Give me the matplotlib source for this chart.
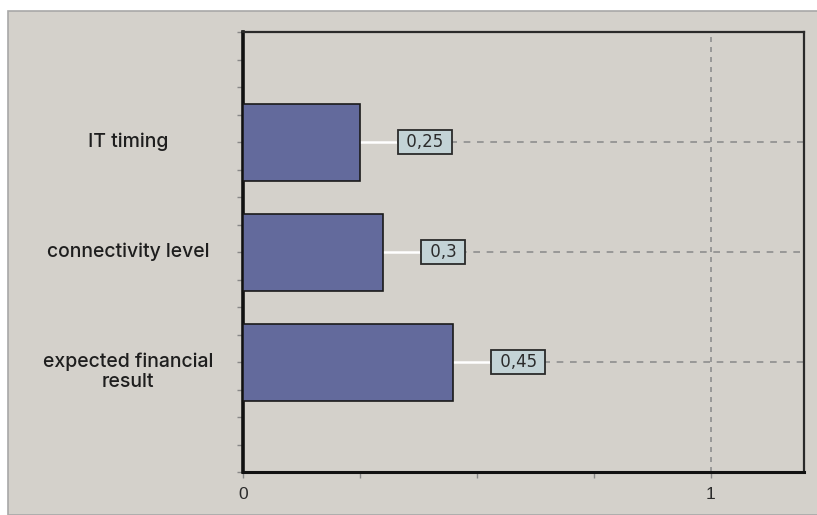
import matplotlib
matplotlib.use("Agg")
import matplotlib.pyplot as plt
from matplotlib.patches import Rectangle
import numpy as np

categories = ["expected financial\nresult", "connectivity level", "IT timing"]
values = [0.45, 0.3, 0.25]
value_labels = ["0,45", "0,3", "0,25"]
xtick_labels = ["0", "1"]

W, H, DPI = 817, 515, 100
fig = plt.figure(figsize=(W / DPI, H / DPI), dpi=DPI, facecolor="white")

# outer grey panel
panel = Rectangle((8 / W, 0), 1 - 8 / W + 0.01, (H - 11) / H, transform=fig.transFigure,
                  facecolor="#d4d1cb", edgecolor="#a8a8a8", linewidth=1.2, zorder=-5)
fig.patches.append(panel)

ax_left, ax_right = 243, 804
ax = fig.add_axes([ax_left / W, (H - 472) / H, (ax_right - ax_left) / W, (472 - 32) / H])
ax.set_facecolor("#d4d1cb")

ypos = np.arange(1, len(categories) + 1)
ax.set_xlim(0, 1.2)
ax.set_ylim(0, 4)

ax.barh(ypos, values, height=0.7, color="#636a9c", edgecolor="#1a1a1a", linewidth=1.2, zorder=3)

px_per_unit = (ax_right - ax_left) / 1.2
gap = 37 / px_per_unit
fs = 12
pad = 0.2
pad_px = pad * fs * DPI / 72
for y, v, lab in zip(ypos, values, value_labels):
    ax.plot([v, v + gap], [y, y], color="white", lw=1.8, zorder=2)
    ax.plot([v + gap, 1.2], [y, y], color="#8e8e8e", lw=1.2, ls=(0, (4, 4)), zorder=2)
    ax.annotate(" " + lab + " ", xy=(v + gap, y), xytext=(pad_px + 1, 0), textcoords="offset pixels",
                ha="left", va="center", fontsize=fs, color="#2b2b2b", family="DejaVu Sans",
                bbox=dict(boxstyle=f"square,pad={pad}", facecolor="#c3d3d6", edgecolor="#2a2a2a", lw=1.3),
                zorder=5)

# vertical grid at 1
ax.axvline(1, color="#8e8e8e", lw=1.2, ls=(0, (3, 3)), zorder=1)

# spines
ax.spines["left"].set_linewidth(2.6)
ax.spines["left"].set_color("#111111")
ax.spines["bottom"].set_linewidth(2.2)
ax.spines["bottom"].set_color("#111111")
for s in ["top", "right"]:
    ax.spines[s].set_linewidth(1.6)
    ax.spines[s].set_color("#2a2a2a")

ax.set_xticks([0, 1])
ax.set_xticklabels(xtick_labels, fontsize=12.5, color="#2b2b2b", family="Liberation Sans")
ax.set_xticks([0.25, 0.5, 0.75], minor=True)
ax.tick_params(axis="x", which="both", length=4, color="#888888", width=1, pad=7)

# category labels: centred text left of the axis
ax.set_yticks(ypos)
ax.set_yticklabels([])
ax.set_yticks(np.arange(0, 4.01, 0.25), minor=True)
ax.tick_params(axis="y", which="both", length=4, color="#888888", width=1)
label_x = (128 - ax_left) / (ax_right - ax_left)
for y, cat in zip(ypos, categories):
    nlines = cat.count("\n") + 1
    dy = -10 * (nlines - 1)
    ax.annotate(cat, xy=(label_x, y), xycoords=ax.get_yaxis_transform(),
                xytext=(0, dy), textcoords="offset pixels",
                ha="center", va="center", multialignment="center", linespacing=1.15,
                fontsize=14, color="#1e1e1e", family="Inter", fontweight="medium",
                annotation_clip=False)

fig.savefig("out.png", dpi=DPI, facecolor="white")
